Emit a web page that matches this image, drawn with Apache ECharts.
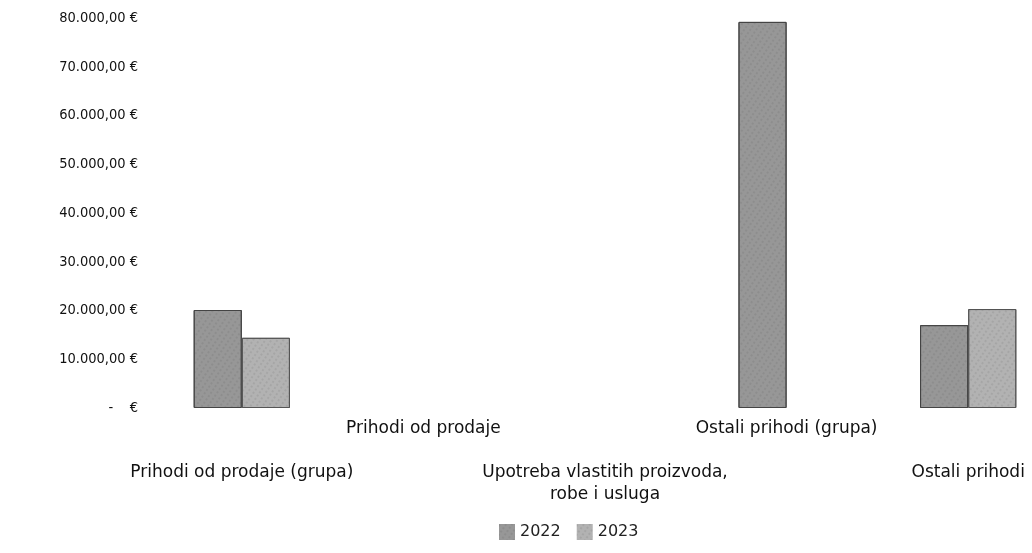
<!DOCTYPE html>
<html>
<head>
<meta charset="utf-8">
<script src="https://cdn.jsdelivr.net/npm/echarts@6/dist/echarts.min.js"></script>
<style>
  html, body { margin: 0; padding: 0; background: #fff; }
  #chart { width: 1032px; height: 553px; }
</style>
</head>
<body>
<div id="chart"></div>
<script>
// kategorije i vrijednosti (EUR), null = nema stupca
let categories = [
  'Prihodi od prodaje (grupa)',
  'Prihodi od prodaje',
  'Upotreba vlastitih proizvoda,\nrobe i usluga',
  'Ostali prihodi (grupa)',
  'Ostali prihodi'
]
let years = ['2022', '2023']
let values2022 = [20100, null, null, 79200, 17000]
let values2023 = [14400, null, null, null, 20300]

function euro(v) {
  if (v === 0) return '-    €'
  let s = Math.round(v).toString().replace(/\B(?=(\d{3})+(?!\d))/g, '.')
  return s + ',00 €'
}

let texture = {
  symbol: 'rect',
  symbolSize: 0.6,
  dashArrayX: [2, 3],
  dashArrayY: [2, 2],
  rotation: 0.6,
  color: 'rgba(60,60,60,0.35)'
}

let myChart = echarts.init(document.getElementById('chart'))
myChart.setOption({
  animation: false,
  textStyle: { fontFamily: 'DejaVu Sans' },
  grid: { left: 151, top: 18, width: 908, height: 390, outerBoundsMode: 'none', containLabel: false },
  legend: {
    data: years,
    top: 519,
    left: 494,
    icon: 'rect',
    itemWidth: 16,
    itemHeight: 16,
    itemGap: 16,
    itemStyle: { borderWidth: 0 },
    textStyle: { fontSize: 16, color: '#222' }
  },
  xAxis: {
    type: 'category',
    data: categories,
    axisLine: { show: false },
    axisTick: { show: false },
    axisLabel: {
      interval: 0,
      margin: 10,
      fontSize: 17,
      lineHeight: 22,
      color: '#111',
      formatter: function (val, idx) {
        return idx % 2 === 0 ? '\n\n' + val : val
      }
    }
  },
  yAxis: {
    type: 'value',
    min: 0,
    max: 80000,
    interval: 10000,
    splitLine: { show: false },
    axisLine: { show: false },
    axisTick: { show: false },
    axisLabel: {
      margin: 13,
      fontSize: 14.5,
      fontFamily: 'DejaVu Sans Condensed',
      color: '#111',
      formatter: euro
    }
  },
  series: [
    {
      name: years[0],
      type: 'bar',
      data: values2022,
      barGap: '0%',
      barCategoryGap: '47%',
      itemStyle: { color: '#979797', borderColor: '#444', borderWidth: 1, decal: texture }
    },
    {
      name: years[1],
      type: 'bar',
      data: values2023,
      itemStyle: { color: '#b2b2b2', borderColor: '#555', borderWidth: 1, decal: texture }
    }
  ]
})
</script>
</body>
</html>
